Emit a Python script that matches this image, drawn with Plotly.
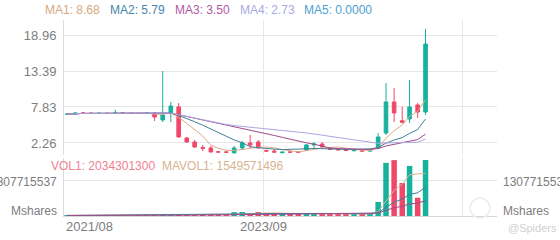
import plotly.graph_objects as go
import pandas as pd

# ---- data (monthly candles) ----
months = ["2021-08", "2021-09", "2021-10", "2021-11", "2021-12", "2022-01", "2022-02", "2022-03",
          "2022-04", "2022-05", "2022-06", "2022-07", "2022-08", "2022-09", "2022-10", "2022-11",
          "2022-12", "2023-01", "2023-02", "2023-03", "2023-04", "2023-05", "2023-06", "2023-07",
          "2023-08", "2023-09", "2023-10", "2023-11", "2023-12", "2024-01", "2024-02", "2024-03",
          "2024-04", "2024-05", "2024-06", "2024-07", "2024-08", "2024-09", "2024-10", "2024-11",
          "2024-12", "2025-01", "2025-02", "2025-03", "2025-04", "2025-05"]

open_ = [6.70, 6.72, 6.90, 6.88, 6.84, 6.86, 6.84, 6.92, 6.86, 6.84, 6.82,
         6.90, 5.82, 6.90, 7.83, 3.03, 2.41, 1.55, 1.49, 0.90, 0.88,
         0.72, 1.49, 2.26, 2.41, 1.10, 1.00, 0.75, 0.86, 0.85, 1.18,
         1.95, 2.10, 1.40, 1.25, 1.20, 1.05, 1.10, 1.00, 1.49, 3.80,
         8.60, 5.70, 5.97, 8.14, 7.05]
high = [6.76, 6.95, 6.96, 6.92, 6.90, 6.90, 7.40, 6.95, 6.90, 6.88, 6.92,
        6.95, 13.39, 8.60, 8.44, 3.20, 2.72, 1.95, 1.80, 0.95, 0.92,
        1.80, 2.57, 3.50, 2.72, 1.20, 1.30, 0.90, 0.92, 0.90, 2.10,
        2.40, 2.40, 1.50, 1.35, 1.30, 1.25, 1.20, 1.20, 3.80, 11.54,
        10.76, 7.90, 12.00, 8.44, 19.90]
low = [6.64, 6.70, 6.84, 6.80, 6.80, 6.80, 6.80, 6.84, 6.80, 6.78, 6.78,
       5.66, 5.50, 5.50, 3.10, 2.30, 1.49, 1.02, 0.80, 0.80, 0.78,
       0.70, 1.18, 1.49, 1.40, 0.95, 0.80, 0.70, 0.80, 0.78, 1.10,
       1.50, 1.50, 1.15, 1.10, 1.00, 1.00, 0.95, 0.95, 1.30, 3.50,
       5.50, 5.30, 5.35, 6.12, 6.60]
close = [6.72, 6.90, 6.88, 6.84, 6.86, 6.84, 6.92, 6.86, 6.84, 6.82, 6.88,
         6.28, 6.59, 7.98, 3.19, 2.41, 1.64, 1.45, 0.87, 0.85, 0.82,
         1.49, 2.26, 1.95, 1.49, 1.00, 0.85, 0.85, 0.85, 0.84, 1.95,
         2.10, 1.64, 1.25, 1.20, 1.10, 1.15, 1.00, 1.10, 3.19, 8.60,
         6.90, 5.45, 7.83, 7.05, 17.57]
volume = [20e6, 25e6, 20e6, 18e6, 18e6, 20e6, 30e6, 18e6, 18e6, 18e6, 20e6,
          30e6, 60e6, 50e6, 60e6, 40e6, 40e6, 45e6, 70e6, 35e6, 35e6,
          140e6, 145e6, 100e6, 145e6, 110e6, 80e6, 70e6, 70e6, 65e6, 100e6,
          100e6, 85e6, 75e6, 70e6, 70e6, 65e6, 65e6, 100e6, 510e6, 1930e6,
          2030e6, 1200e6, 1820e6, 663e6, 2034301300]

ma_periods = [5, 10, 20, 30]
vol_ma_periods = [5, 10, 20]
price_ticks = [2.26, 7.83, 13.39, 18.96]
vol_tick = 1307715537
x_ticks = ["2021-08-01", "2023-09-01", "2025-10-01"]
x_tick_labels = ["2021/08", "2023/09"]
ma_legend = ["MA1: 8.68", "MA2: 5.79", "MA3: 3.50", "MA4: 2.73", "MA5: 0.0000"]
vol_legend = ["VOL1: 2034301300", "MAVOL1: 1549571496"]

# ---- styles ----
UP = "#16b29c"
DOWN = "#f0486a"
GRID = "#e6e6e6"
AXIS_TXT = "#7d7d7d"
FONT = "Liberation Sans"
ma_colors = ["#dcaa86", "#3f7e97", "#a04a8c", "#aaa8e2"]
ma_text_colors = ["#d6a880", "#4a84a8", "#b35a9f", "#a9a9e2", "#4a9fd0"]
vol_ma_colors = ["#dcb48e", "#3f7e97", "#a04a8c"]

dates = [m + "-13" for m in months]
s_close = pd.Series(close)
s_vol = pd.Series(volume)

fig = go.Figure()

for p, c in zip(ma_periods, ma_colors):
    fig.add_trace(go.Scatter(x=dates, y=s_close.rolling(p, min_periods=1).mean(),
                             mode="lines", line=dict(color=c, width=1),
                             xaxis="x", yaxis="y", hoverinfo="skip"))

fig.add_trace(go.Candlestick(
    x=dates, open=open_, high=high, low=low, close=close,
    increasing=dict(line=dict(color=UP, width=1), fillcolor=UP),
    decreasing=dict(line=dict(color=DOWN, width=1), fillcolor=DOWN),
    whiskerwidth=0, xaxis="x", yaxis="y"))

bar_colors = [UP if c >= o else DOWN for o, c in zip(open_, close)]
fig.add_trace(go.Bar(x=dates, y=volume, marker=dict(color=bar_colors, line=dict(width=0)),
                     xaxis="x", yaxis="y2"))

for p, c in zip(vol_ma_periods, vol_ma_colors):
    fig.add_trace(go.Scatter(x=dates, y=s_vol.rolling(p, min_periods=1).mean(),
                             mode="lines", line=dict(color=c, width=1),
                             xaxis="x", yaxis="y2", hoverinfo="skip"))

W, H = 560, 240
L, R, T, B = 64, 63, 20, 24
pw, ph = W - L - R, H - T - B

def px_x(x):
    return (x - L) / pw

def px_y(y):
    return (H - B - y) / ph

price_dom = [px_y(155), 1.0]
vol_dom = [0.0, px_y(158)]

tick_font = dict(family=FONT, size=13, color=AXIS_TXT)
small_font = dict(family=FONT, size=12, color=AXIS_TXT)

fig.update_layout(
    width=W, height=H, margin=dict(l=L, r=R, t=T, b=B, pad=0),
    paper_bgcolor="white", plot_bgcolor="white",
    showlegend=False, bargap=0.25,
    font=dict(family=FONT),
    xaxis=dict(domain=[0, 1], anchor="y2", type="date",
               range=["2021-08-01", "2026-02-10"],
               tickvals=x_ticks, showticklabels=False, ticks="",
               showgrid=True, gridcolor=GRID, gridwidth=1,
               showline=True, linecolor="#d8d8d8", linewidth=1,
               zeroline=False, rangeslider=dict(visible=False), fixedrange=True),
    yaxis=dict(domain=price_dom, anchor="x", range=[0.40, 21.28],
               tickvals=price_ticks, ticktext=[f"{v:.2f}" for v in price_ticks],
               tickfont=tick_font, ticks="", ticklabelstandoff=4,
               showgrid=True, gridcolor=GRID, zeroline=False,
               showline=True, linecolor="#dcdcdc", automargin=False),
    yaxis3=dict(overlaying="y", side="right", anchor="x", range=[0.40, 21.28],
                tickvals=price_ticks, ticktext=[f"{v:.2f}" for v in price_ticks],
                tickfont=tick_font, ticks="", ticklabelstandoff=4,
                showgrid=False, zeroline=False,
                showline=True, linecolor="#dcdcdc", automargin=False),
    yaxis2=dict(domain=vol_dom, anchor="x", range=[0, 2.107e9],
                tickvals=[vol_tick], showticklabels=False, ticks="",
                showgrid=True, gridcolor=GRID, zeroline=False,
                showline=True, linecolor="#dcdcdc", automargin=False),
)

ann = []
# MA legend on top
for txt, col, xp in zip(ma_legend, ma_text_colors, [43, 108, 173, 238, 302]):
    ann.append(dict(text=txt, x=px_x(xp), y=px_y(10), xref="paper", yref="paper",
                    xanchor="left", yanchor="middle", showarrow=False,
                    font=dict(family=FONT, size=12, color=col)))
# volume legend
for txt, col, xp in zip(vol_legend, ["#ee8292", "#d8b48f"], [49, 160]):
    ann.append(dict(text=txt, x=px_x(xp), y=px_y(166), xref="paper", yref="paper",
                    xanchor="left", yanchor="middle", showarrow=False,
                    font=dict(family=FONT, size=12, color=col)))
# volume axis labels (left and right)
for txt, yp in [(str(vol_tick), 182), ("Mshares", 211)]:
    ann.append(dict(text=txt, x=px_x(59), y=px_y(yp), xref="paper", yref="paper",
                    xanchor="right", yanchor="middle", showarrow=False, font=small_font))
    ann.append(dict(text=txt, x=px_x(501), y=px_y(yp), xref="paper", yref="paper",
                    xanchor="left", yanchor="middle", showarrow=False, font=small_font))
# x tick labels
ann.append(dict(text=x_tick_labels[0], x=x_ticks[0], xref="x", y=px_y(227), yref="paper",
                xanchor="left", yanchor="middle", showarrow=False, font=tick_font))
ann.append(dict(text=x_tick_labels[1], x=x_ticks[1], xref="x", y=px_y(227), yref="paper",
                xanchor="center", yanchor="middle", showarrow=False, font=tick_font))
# watermark
ann.append(dict(text="@Spiders", x=px_x(506), y=px_y(228), xref="paper", yref="paper",
                xanchor="left", yanchor="middle", showarrow=False,
                font=dict(family=FONT, size=11, color="#d0d0d0")))
fig.update_layout(annotations=ann)

fig.add_shape(type="circle", xref="paper", yref="paper",
              x0=px_x(470), x1=px_x(490), y0=px_y(218), y1=px_y(198),
              line=dict(color="#ececec", width=1.5))

fig.write_html("out.html", config={"displayModeBar": False})
